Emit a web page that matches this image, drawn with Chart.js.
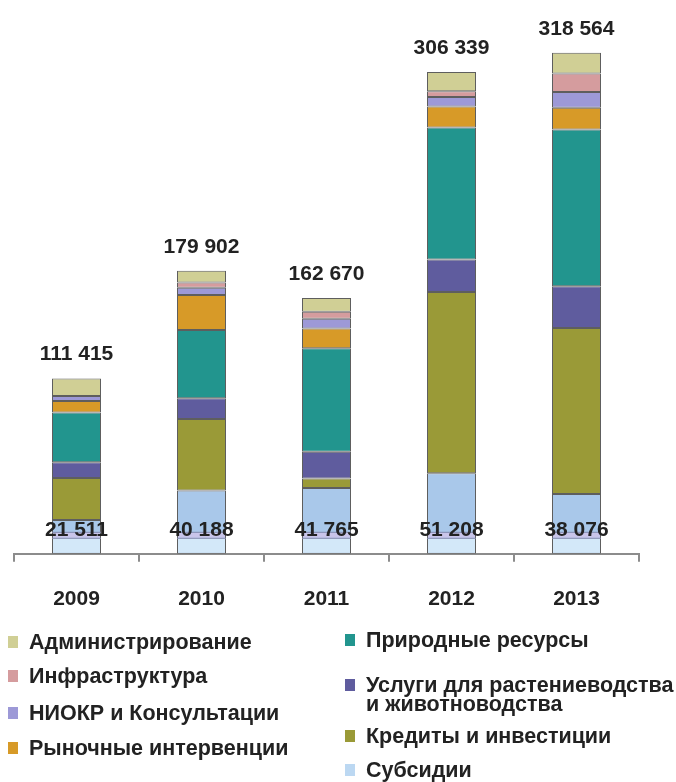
<!DOCTYPE html>
<html>
<head>
<meta charset="utf-8">
<script src="https://cdn.jsdelivr.net/npm/chart.js@4.4.0/dist/chart.umd.min.js"></script>
<style>
  html, body { margin: 0; padding: 0; background: #fff; }
  #wrap { position: relative; width: 676px; height: 782px; overflow: hidden; }
  #chart { position: absolute; left: 0; top: 0; }
  .lg { position: absolute; font: bold 21.5px "Liberation Sans", Arial, sans-serif; color: #222; white-space: nowrap; line-height: 19px; }
  .sw { position: absolute; width: 10px; height: 12px; }
</style>
</head>
<body>
<div id="wrap">
  <canvas id="chart" width="676" height="651"></canvas>
  <div id="legend"></div>
</div>
<script>
// data (stack order: bottom -> top)
var years = ['2009', '2010', '2011', '2012', '2013'];
var subsidies = [21511, 40188, 41765, 51208, 38076];
var credits = [26676, 45443, 6077, 115244, 105451];
var services = [10083, 13316, 16973, 20646, 26521];
var nature = [31509, 43331, 65796, 83848, 99718];
var market = [7352, 22194, 12573, 13483, 13791];
var niokr = [3151, 4650, 6286, 5899, 9972];
var infra = [0, 3382, 4400, 3792, 11881];
var admin = [11133, 7398, 8800, 12219, 13154];

var FONT = '"Liberation Sans", Arial, sans-serif';

function fmt(n) {
  return String(n).replace(/\B(?=(\d{3})+(?!\d))/g, ' ');
}

function ds(label, data, color) {
  return {
    label: label,
    data: data,
    backgroundColor: color,
    borderColor: '#5e5e5e',
    borderWidth: 1,
    borderSkipped: false,
    barPercentage: 0.392,
    categoryPercentage: 1
  };
}

var datasets = [
  ds('Субсидии', subsidies, '#a9c8ea'),
  ds('Кредиты и инвестиции', credits, '#9a9a37'),
  ds('Услуги для растениеводства и животноводства', services, '#5f5c9e'),
  ds('Природные ресурсы', nature, '#22958e'),
  ds('Рыночные интервенции', market, '#d79a28'),
  ds('НИОКР и Консультации', niokr, '#9d99d7'),
  ds('Инфраструктура', infra, '#d59c9e'),
  ds('Администрирование', admin, '#d0cf95')
];

// labels: totals on top, subsidies value near the base
var labelPlugin = {
  id: 'barLabels',
  afterDatasetsDraw: function(chart) {
    var ctx = chart.ctx;
    var yScale = chart.scales.y;
    var meta = chart.getDatasetMeta(0);
    ctx.save();
    meta.data.forEach(function(bar, i) {
      var left = bar.x - bar.width / 2;
      var base = bar.base;
      // lighter lower part of the subsidies block
      ctx.fillStyle = '#d3e8f9';
      ctx.fillRect(left + 1, base - 16, bar.width - 2, 15);
      ctx.fillStyle = '#c9c5ea';
      ctx.fillRect(left + 1, base - 21, bar.width - 2, 5);
      ctx.strokeStyle = '#8489ad';
      ctx.lineWidth = 1;
      ctx.beginPath();
      ctx.moveTo(left, base - 15.5); ctx.lineTo(left + bar.width, base - 15.5);
      ctx.moveTo(left, base - 21.5); ctx.lineTo(left + bar.width, base - 21.5);
      ctx.stroke();

      ctx.font = 'bold 21px ' + FONT;
      ctx.fillStyle = '#222';
      ctx.textAlign = 'center';
      ctx.textBaseline = 'middle';
      ctx.fillText(fmt(subsidies[i]), bar.x, base - 24);

      var total = 0;
      chart.data.datasets.forEach(function(d) { total += d.data[i]; });
      ctx.fillText(fmt(total), bar.x, yScale.getPixelForValue(total) - 24);
    });
    ctx.restore();
  }
};

new Chart(document.getElementById('chart').getContext('2d'), {
  type: 'bar',
  data: { labels: years, datasets: datasets },
  options: {
    responsive: false,
    animation: false,
    devicePixelRatio: 1,
    layout: { padding: { left: 14, right: 37, top: 30, bottom: 14 } },
    plugins: {
      legend: { display: false },
      tooltip: { enabled: false }
    },
    scales: {
      x: {
        stacked: true,
        grid: { drawOnChartArea: false, drawTicks: true, tickLength: 8, color: '#8c8c8c', lineWidth: 2, offset: true },
        border: { display: true, color: '#8c8c8c', width: 2 },
        ticks: { padding: 25, color: '#222', font: { family: FONT, size: 21, weight: 'bold' } }
      },
      y: { stacked: true, display: false, min: 0, max: 333000 }
    }
  },
  plugins: [labelPlugin]
});

// legend in two columns, as in the picture
var legendItems = [
  { name: 'Администрирование', color: '#d0cf95', x: 8, y: 643 },
  { name: 'Инфраструктура', color: '#d59c9e', x: 8, y: 677 },
  { name: 'НИОКР и Консультации', color: '#9d99d7', x: 8, y: 714 },
  { name: 'Рыночные интервенции', color: '#d79a28', x: 8, y: 749 },
  { name: 'Природные ресурсы', color: '#22958e', x: 345, y: 641 },
  { name: 'Услуги для растениеводства<br>и животноводства', color: '#5f5c9e', x: 345, y: 686 },
  { name: 'Кредиты и инвестиции', color: '#9a9a37', x: 345, y: 737 },
  { name: 'Субсидии', color: '#bcd8f2', x: 345, y: 771 }
];
var legend = document.getElementById('legend');
legendItems.forEach(function(it) {
  var sw = document.createElement('div');
  sw.className = 'sw';
  sw.style.left = it.x + 'px';
  sw.style.top = (it.y - 7) + 'px';
  sw.style.background = it.color;
  legend.appendChild(sw);
  var tx = document.createElement('div');
  tx.className = 'lg';
  tx.style.left = (it.x + 21) + 'px';
  tx.style.top = (it.y - 10) + 'px';
  tx.innerHTML = it.name;
  legend.appendChild(tx);
});
</script>
</body>
</html>
